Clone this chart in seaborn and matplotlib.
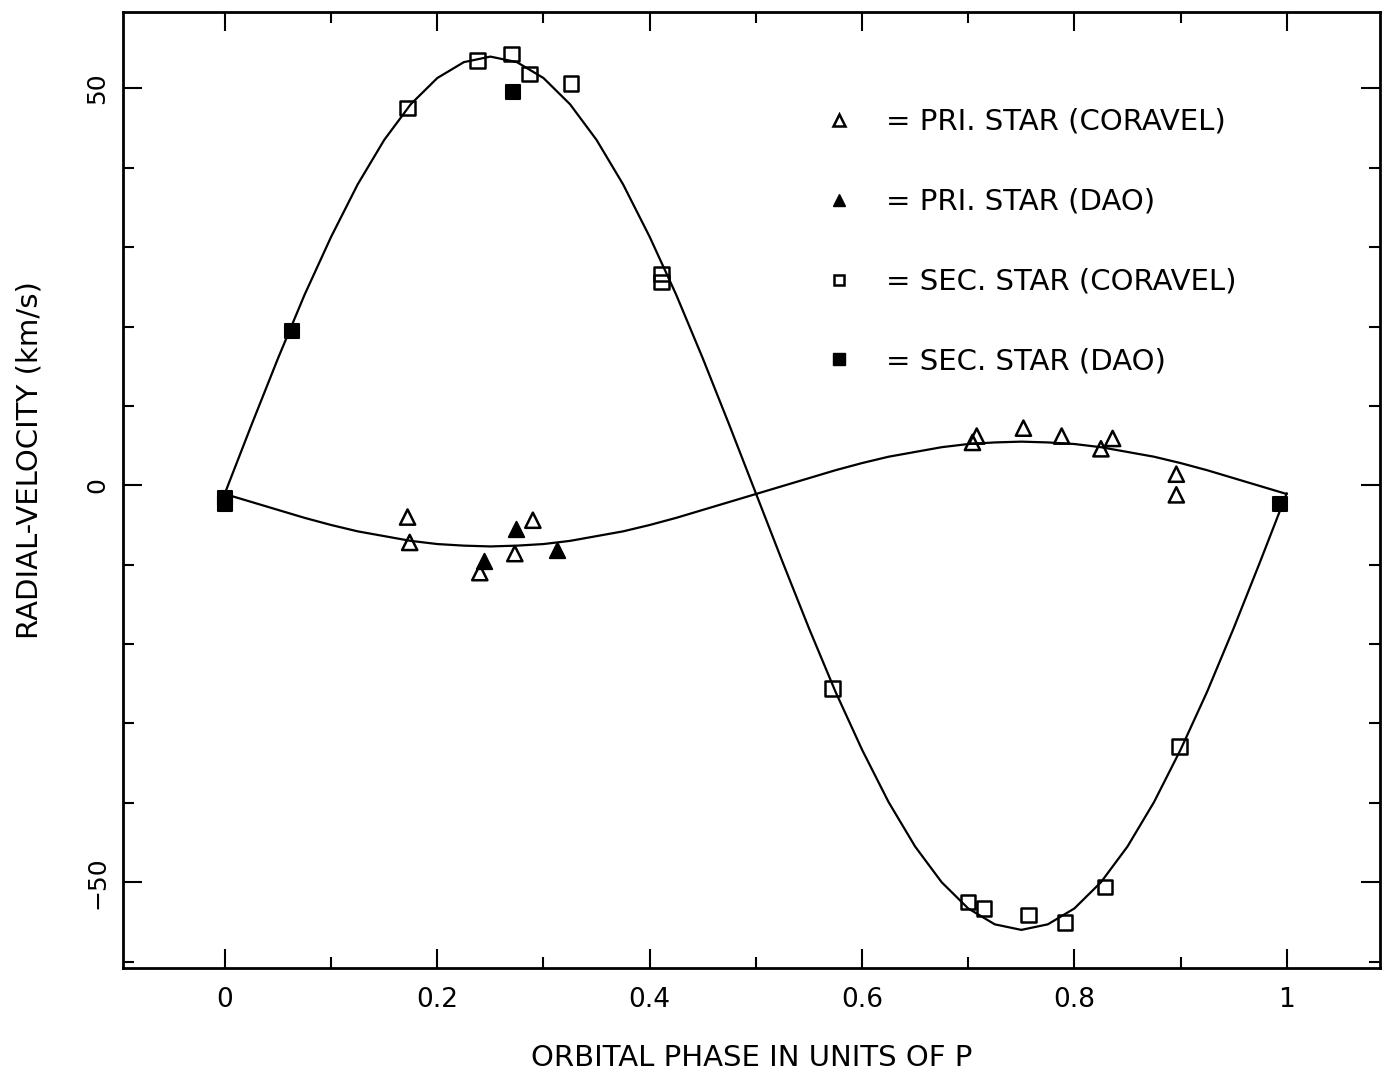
import numpy as np
import pandas as pd
import matplotlib
matplotlib.use("Agg")
import matplotlib.pyplot as plt
import seaborn as sns
from matplotlib.lines import Line2D
from matplotlib import font_manager
from matplotlib.ticker import MultipleLocator, FixedLocator, FixedFormatter

# ---------------- data ----------------
pri_coravel_phase = [0.172, 0.174, 0.240, 0.273, 0.290, 0.704, 0.708, 0.752,
                     0.788, 0.825, 0.836, 0.896, 0.896]
pri_coravel_rv = [-4.0, -7.2, -11.0, -8.6, -4.4, 5.4, 6.2, 7.2,
                  6.2, 4.6, 5.9, 1.4, -1.2]

pri_dao_phase = [0.244, 0.274, 0.313]
pri_dao_rv = [-9.5, -5.5, -8.1]

sec_coravel_phase = [0.172, 0.238, 0.270, 0.287, 0.326, 0.411, 0.411, 0.572,
                     0.700, 0.715, 0.757, 0.791, 0.829, 0.899]
sec_coravel_rv = [47.5, 53.5, 54.3, 51.8, 50.6, 26.6, 25.6, -25.6,
                  -52.5, -53.3, -54.1, -55.1, -50.6, -32.9]

sec_dao_phase = [0.000, 0.000, 0.063, 0.271, 0.994]
sec_dao_rv = [-1.6, -2.4, 19.4, 49.5, -2.3]

# fitted orbit curves, read at steps of 0.025 in phase
curve_phase = [round(0.025 * i, 3) for i in range(41)]
curve_sec_rv = [-1.0, 7.6, 16.0, 24.0, 31.3, 37.9, 43.5, 48.0, 51.3, 53.3,
                54.0, 53.3, 51.3, 48.0, 43.5, 37.9, 31.3, 24.0, 16.0, 7.6,
                -1.0, -9.6, -18.0, -26.0, -33.3, -39.9, -45.5, -50.0, -53.3, -55.3,
                -56.0, -55.3, -53.3, -50.0, -45.5, -39.9, -33.3, -26.0, -18.0, -9.6,
                -1.0]
curve_pri_rv = [-1.1, -2.1, -3.1, -4.1, -5.0, -5.8, -6.4, -7.0, -7.4, -7.6,
                -7.7, -7.6, -7.4, -7.0, -6.4, -5.8, -5.0, -4.1, -3.1, -2.1,
                -1.1, -0.1, 0.9, 1.9, 2.8, 3.6, 4.2, 4.8, 5.2, 5.4,
                5.5, 5.4, 5.2, 4.8, 4.2, 3.6, 2.8, 1.9, 0.9, -0.1,
                -1.1]

x_tick_values = [0, 0.2, 0.4, 0.6, 0.8, 1.0]
x_tick_labels = ["0", "0.2", "0.4", "0.6", "0.8", "1"]
y_tick_values = [-50, 0, 50]
y_tick_labels = ["\u221250", "0", "50"]

legend_labels = ["= PRI. STAR (CORAVEL)", "= PRI. STAR (DAO)",
                 "= SEC. STAR (CORAVEL)", "= SEC. STAR (DAO)"]

# ---------------- style ----------------
sns.set_theme(style="ticks")
plt.rcParams['font.family'] = ['DejaVu Sans']
for key in ["text.color", "axes.labelcolor", "xtick.color", "ytick.color", "axes.edgecolor"]:
    plt.rcParams[key] = "black"
names = {f.name for f in font_manager.fontManager.ttflist}
narrow = 'Liberation Sans Narrow' if 'Liberation Sans Narrow' in names else 'DejaVu Sans'

fig = plt.figure(figsize=(13.82, 10.74), dpi=100)
ax = fig.add_axes([0.089, 0.0987, 0.9097, 0.890])

curves = pd.DataFrame({"phase": curve_phase, "sec": curve_sec_rv, "pri": curve_pri_rv})
sns.lineplot(data=curves, x="phase", y="sec", ax=ax, color="black", lw=1.6, sort=False)
sns.lineplot(data=curves, x="phase", y="pri", ax=ax, color="black", lw=1.6, sort=False)

sns.scatterplot(x=pri_coravel_phase, y=pri_coravel_rv, ax=ax, marker="^", s=120,
                facecolor="none", edgecolor="black", linewidth=1.8, zorder=3)
sns.scatterplot(x=pri_dao_phase, y=pri_dao_rv, ax=ax, marker="^", s=120,
                facecolor="black", edgecolor="black", linewidth=1.5, zorder=3)
sns.scatterplot(x=sec_coravel_phase, y=sec_coravel_rv, ax=ax, marker="s", s=110,
                facecolor="none", edgecolor="black", linewidth=1.8, zorder=3)
sns.scatterplot(x=sec_dao_phase, y=sec_dao_rv, ax=ax, marker="s", s=110,
                facecolor="black", edgecolor="black", linewidth=1.5, zorder=3)

ax.set_xlim(-0.096, 1.088)
ax.set_ylim(-60.8, 59.6)

ax.xaxis.set_major_locator(FixedLocator(x_tick_values))
ax.xaxis.set_major_formatter(FixedFormatter(x_tick_labels))
ax.xaxis.set_minor_locator(MultipleLocator(0.1))
ax.yaxis.set_major_locator(FixedLocator(y_tick_values))
ax.yaxis.set_major_formatter(FixedFormatter(y_tick_labels))
ax.yaxis.set_minor_locator(MultipleLocator(10))

ax.tick_params(which="both", direction="in", top=True, right=True, width=1.5, color="black")
ax.tick_params(which="major", length=14)
ax.tick_params(which="minor", length=8)
ax.tick_params(axis="x", which="major", labelsize=19, pad=14)
ax.tick_params(axis="y", which="major", labelsize=18, pad=10, labelrotation=90)
for lab in ax.get_xticklabels():
    lab.set_fontfamily(narrow)
for lab in ax.get_yticklabels():
    lab.set_va("center")

for sp in ax.spines.values():
    sp.set_linewidth(2)
    sp.set_color("black")

ax.set_xlabel("ORBITAL PHASE IN UNITS OF P", fontsize=21, family=narrow, labelpad=22)
ax.set_ylabel("RADIAL-VELOCITY (km/s)", fontsize=21)
ax.yaxis.set_label_coords(-0.063, 0.531)

handles = [
    Line2D([], [], ls="none", marker="^", ms=8, mfc="none", mec="black", mew=1.8),
    Line2D([], [], ls="none", marker="^", ms=9, mfc="black", mec="black"),
    Line2D([], [], ls="none", marker="s", ms=7, mfc="none", mec="black", mew=1.8),
    Line2D([], [], ls="none", marker="s", ms=8, mfc="black", mec="black"),
]
ax.legend(handles, legend_labels, loc="upper left", bbox_to_anchor=(0.549, 0.912),
          frameon=False, fontsize=21, handlelength=1.0, handletextpad=1.1,
          labelspacing=1.78, borderaxespad=0)

fig.savefig("out.png", dpi=100, facecolor="white")
